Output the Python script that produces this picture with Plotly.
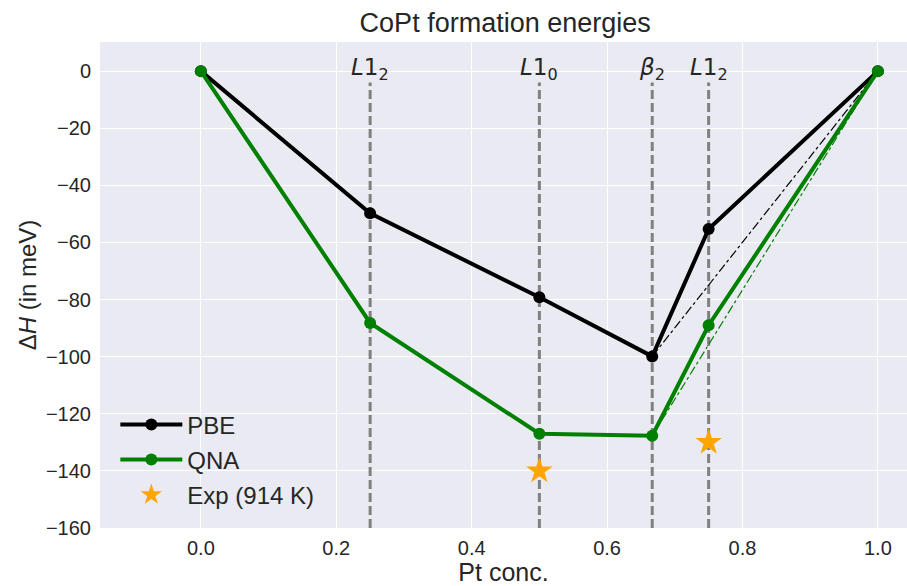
import plotly.graph_objects as go

conc = [0.0, 0.25, 0.5, 2/3, 0.75, 1.0]
pbe = [0.0, -49.8, -79.2, -99.9, -55.3, 0.0]
qna = [0.0, -88.2, -127.0, -127.7, -89.0, 0.0]
exp_x = [0.5, 0.75]
exp_y = [-140.0, -130.0]
phase_x = [0.25, 0.5, 2/3, 0.75]
phase_labels = ["<i>L</i>1<sub>2</sub>", "<i>L</i>1<sub>0</sub>", "<i>β</i><sub>2</sub>", "<i>L</i>1<sub>2</sub>"]
phase_span = [-160, -4]
hull_x = [2/3, 1.0]
hull_pbe = [pbe[3], pbe[5]]
hull_qna = [qna[3], qna[5]]

fig = go.Figure()
for px in phase_x:
    fig.add_trace(go.Scatter(x=[px, px], y=phase_span, mode="lines",
                             line=dict(color="#808080", width=3, dash="9px,4px"),
                             showlegend=False, hoverinfo="skip"))
fig.add_trace(go.Scatter(x=hull_x, y=hull_pbe, mode="lines",
                         line=dict(color="black", width=1.2, dash="dashdot"),
                         showlegend=False))
fig.add_trace(go.Scatter(x=hull_x, y=hull_qna, mode="lines",
                         line=dict(color="green", width=1.2, dash="dashdot"),
                         showlegend=False))
fig.add_trace(go.Scatter(x=conc, y=pbe, mode="lines+markers", name="PBE",
                         line=dict(color="black", width=4),
                         marker=dict(color="black", size=12), legendgroup="a"))
fig.add_trace(go.Scatter(x=conc, y=qna, mode="lines+markers", name="QNA",
                         line=dict(color="green", width=4),
                         marker=dict(color="green", size=12), legendgroup="b"))
fig.add_trace(go.Scatter(x=exp_x, y=exp_y, mode="markers", name="Exp (914 K)",
                         marker=dict(color="orange", size=20, symbol="star", line=dict(width=0)),
                         legendgroup="c"))

for px, lab in zip(phase_x, phase_labels):
    fig.add_annotation(x=px, y=0, text=lab, showarrow=False, yanchor="middle",
                       xanchor="center", yshift=2,
                       font=dict(family="DejaVu Sans", size=23, color="#262626"))

fig.update_layout(
    width=907, height=586,
    margin=dict(l=100, r=0, t=42, b=58),
    plot_bgcolor="#EAEAF2", paper_bgcolor="white",
    font=dict(family="Liberation Sans, Arial", color="#262626"),
    title=dict(text="CoPt formation energies", x=0.557, xanchor="center", y=0.962,
               yanchor="middle", font=dict(size=27, color="#262626")),
    legend=dict(x=0.019, y=0.022, xanchor="left", yanchor="bottom",
                bgcolor="rgba(0,0,0,0)", font=dict(size=24, color="#262626"),
                tracegroupgap=1, itemwidth=62),
    showlegend=True,
)
fig.update_xaxes(range=[-0.149, 1.043], tickvals=[0, 0.2, 0.4, 0.6, 0.8, 1.0],
                 tickformat=".1f", showgrid=True, gridcolor="white", gridwidth=1.3,
                 zeroline=False, ticks="", tickfont=dict(size=20), ticklabelstandoff=6,
                 title=dict(text="Pt conc.", font=dict(size=25), standoff=2))
fig.update_yaxes(range=[-160, 10.2], tickvals=list(range(-160, 1, 20)),
                 showgrid=True, gridcolor="white", gridwidth=1.3,
                 zeroline=False, ticks="", tickfont=dict(size=20), ticklabelstandoff=8,
                 title=dict(text="Δ<i>H</i> (in meV)", font=dict(size=24), standoff=2))

fig.write_html("out.html")
